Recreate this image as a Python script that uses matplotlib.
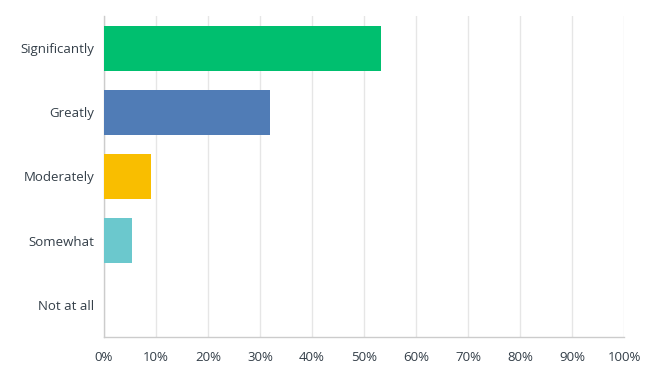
import matplotlib
matplotlib.use("Agg")
import matplotlib.pyplot as plt
import numpy as np

# survey answers, top to bottom
categories = ["Significantly", "Greatly", "Moderately", "Somewhat", "Not at all"]
percents = [53.3, 32.0, 9.0, 5.3, 0.0]
bar_colors = ["#00BF6F", "#507CB6", "#F9BE00", "#6BC8CD", "#D25F90"]
x_ticks = list(range(0, 101, 10))

plt.rcParams['font.family'] = ['Open Sans', 'DejaVu Sans']

fig = plt.figure(figsize=(6.45, 3.77), dpi=100)
ax = fig.add_axes([104 / 645, 1 - 337 / 377, 520 / 645, 321 / 377])

y = np.arange(len(categories))
ax.barh(y, percents, height=0.70, color=bar_colors, edgecolor="none", zorder=3)

ax.set_xlim(0, 100)
ax.set_ylim(len(categories) - 0.5, -0.5)
ax.set_xticks(x_ticks)
ax.set_xticklabels([f"{t}%" for t in x_ticks])
ax.set_yticks(y)
ax.set_yticklabels(categories)

ax.grid(axis="x", color="#E6E6E6", linewidth=1, zorder=0)
ax.tick_params(length=0, labelsize=9.5, colors="#333E48")
ax.tick_params(axis="x", pad=10)
ax.tick_params(axis="y", pad=7)

for side in ["top", "right"]:
    ax.spines[side].set_visible(False)
for side in ["left", "bottom"]:
    ax.spines[side].set_color("#CCCCCC")
    ax.spines[side].set_linewidth(1)

fig.savefig("out.png", dpi=100)
